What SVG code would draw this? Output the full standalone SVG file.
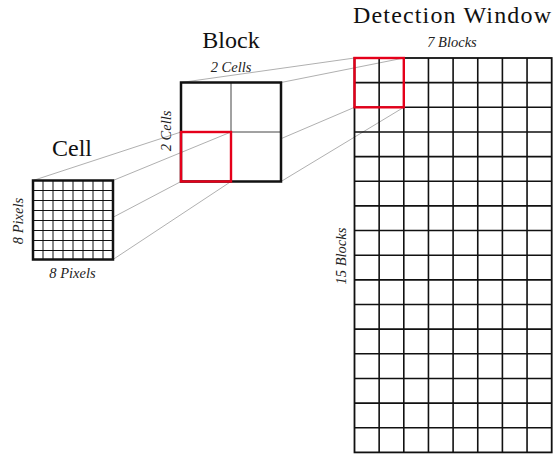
<svg xmlns="http://www.w3.org/2000/svg" width="560" height="461" viewBox="0 0 560 461">
<style>
.title{font-family:"Liberation Serif",serif;font-size:24px;fill:#111;text-anchor:middle}
.lbl{font-family:"Liberation Serif",serif;font-style:italic;font-size:14.5px;fill:#222;text-anchor:middle}
.conn{stroke:#b0b0b0;stroke-width:1;fill:none}
.outer{fill:none;stroke:#111;stroke-width:2.5}
.thin{fill:none;stroke:#111;stroke-width:1}
.red{fill:none;stroke:#e5001a;stroke-width:2.4}
</style>
<rect width="560" height="461" fill="#fff"/>
<g id="connectors">
<line class="conn" x1="181" y1="82.5" x2="354.5" y2="58"/>
<line class="conn" x1="281" y1="82.5" x2="403.8" y2="58"/>
<line class="conn" x1="281" y1="138.7" x2="354.5" y2="107.3"/>
<line class="conn" x1="281" y1="181.5" x2="403.8" y2="107.3"/>
<line class="conn" x1="33" y1="180.5" x2="181" y2="132"/>
<line class="conn" x1="113" y1="180.5" x2="231" y2="132"/>
<line class="conn" x1="113" y1="217.3" x2="181" y2="181.5"/>
<line class="conn" x1="113" y1="259.5" x2="231" y2="181.5"/>
</g>
<g id="cell">
<path class="thin" d="M43,180.5V259.5M53,180.5V259.5M63,180.5V259.5M73,180.5V259.5M83,180.5V259.5M93,180.5V259.5M103,180.5V259.5M33,190.5H113M33,200.5H113M33,210.5H113M33,220.5H113M33,230.5H113M33,240.5H113M33,250.5H113"/>
<rect class="outer" x="33" y="180.5" width="80" height="79"/>
<text class="title" x="72" y="156">Cell</text>
<text class="lbl" x="72.5" y="278">8 Pixels</text>
<text class="lbl" transform="translate(22.5,221) rotate(-90)">8 Pixels</text>
</g>
<g id="block">
<path d="M231,82.5V181.5M181,132H281" fill="none" stroke="#444" stroke-width="1"/>
<rect class="outer" x="181" y="82.5" width="100" height="99"/>
<rect class="red" x="181" y="132" width="50" height="49.5"/>
<text class="title" x="231" y="48">Block</text>
<text class="lbl" x="231" y="72">2 Cells</text>
<text class="lbl" transform="translate(171,131) rotate(-90)">2 Cells</text>
</g>
<g id="detection-window">
<path d="M379.15,58V452.4M403.8,58V452.4M428.45,58V452.4M453.1,58V452.4M477.75,58V452.4M502.4,58V452.4M527.05,58V452.4M354.5,82.65H551.7M354.5,107.3H551.7M354.5,131.95H551.7M354.5,156.6H551.7M354.5,181.25H551.7M354.5,205.9H551.7M354.5,230.55H551.7M354.5,255.2H551.7M354.5,279.85H551.7M354.5,304.5H551.7M354.5,329.15H551.7M354.5,353.8H551.7M354.5,378.45H551.7M354.5,403.1H551.7M354.5,427.75H551.7" fill="none" stroke="#111" stroke-width="1.6"/>
<rect x="354.5" y="58" width="197.2" height="394.4" fill="none" stroke="#111" stroke-width="1.8"/>
<rect class="red" x="354.5" y="58" width="49.3" height="49.3"/>
<text class="title" x="452" y="23" textLength="198" lengthAdjust="spacing">Detection Window</text>
<text class="lbl" x="452" y="47">7 Blocks</text>
<text class="lbl" transform="translate(345.5,256) rotate(-90)">15 Blocks</text>
</g>
</svg>
